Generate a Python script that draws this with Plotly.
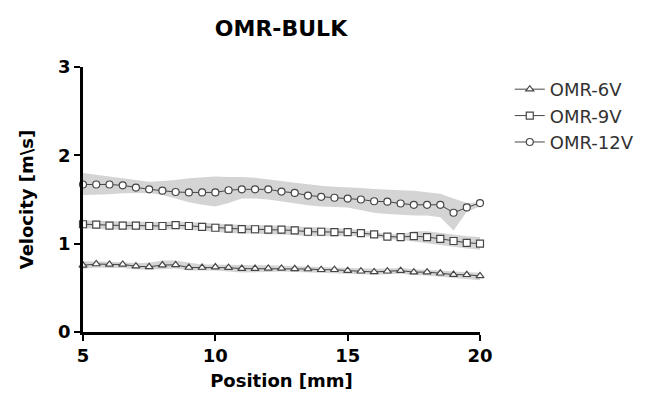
import plotly.graph_objects as go

position = [5 + 0.5 * i for i in range(31)]

x_ticks = [5, 10, 15, 20]
y_ticks = [0, 1, 2, 3]

v6_mean = [0.755, 0.77, 0.765, 0.765, 0.745, 0.738, 0.758, 0.76, 0.73, 0.73, 0.735,
           0.728, 0.718, 0.718, 0.72, 0.72, 0.715, 0.713, 0.705, 0.705, 0.695, 0.688,
           0.68, 0.688, 0.695, 0.678, 0.678, 0.665, 0.65, 0.648, 0.635]
v6_upper = [0.80, 0.80, 0.795, 0.79, 0.78, 0.785, 0.81, 0.81, 0.785, 0.765, 0.765,
            0.76, 0.755, 0.755, 0.755, 0.75, 0.745, 0.74, 0.735, 0.73, 0.725, 0.72,
            0.715, 0.72, 0.725, 0.71, 0.705, 0.695, 0.685, 0.68, 0.67]
v6_lower = [0.715, 0.73, 0.725, 0.725, 0.71, 0.705, 0.715, 0.72, 0.695, 0.695, 0.695,
            0.685, 0.675, 0.675, 0.678, 0.685, 0.68, 0.678, 0.67, 0.668, 0.66, 0.655,
            0.648, 0.655, 0.66, 0.645, 0.64, 0.628, 0.61, 0.60, 0.585]

v9_mean = [1.22, 1.215, 1.205, 1.205, 1.205, 1.20, 1.20, 1.21, 1.20, 1.19, 1.18,
           1.17, 1.165, 1.163, 1.16, 1.16, 1.15, 1.135, 1.135, 1.13, 1.13, 1.12,
           1.105, 1.08, 1.075, 1.085, 1.075, 1.055, 1.03, 1.01, 1.00]
v9_upper = [1.265, 1.26, 1.25, 1.25, 1.25, 1.245, 1.245, 1.255, 1.245, 1.235, 1.228,
            1.22, 1.215, 1.212, 1.21, 1.21, 1.2, 1.185, 1.185, 1.175, 1.17, 1.155,
            1.135, 1.11, 1.105, 1.14, 1.14, 1.12, 1.10, 1.085, 1.075]
v9_lower = [1.175, 1.17, 1.16, 1.16, 1.16, 1.155, 1.155, 1.165, 1.155, 1.145, 1.135,
            1.12, 1.115, 1.112, 1.108, 1.105, 1.098, 1.085, 1.085, 1.085, 1.09, 1.085,
            1.075, 1.05, 1.045, 1.03, 1.01, 0.99, 0.965, 0.945, 0.93]

v12_mean = [1.67, 1.67, 1.67, 1.66, 1.635, 1.615, 1.60, 1.585, 1.58, 1.58, 1.58,
            1.605, 1.615, 1.615, 1.615, 1.59, 1.575, 1.545, 1.53, 1.52, 1.51, 1.50,
            1.48, 1.475, 1.455, 1.44, 1.44, 1.44, 1.35, 1.41, 1.46]
v12_upper = [1.80, 1.78, 1.76, 1.74, 1.72, 1.70, 1.71, 1.72, 1.74, 1.75, 1.76,
             1.755, 1.755, 1.745, 1.73, 1.71, 1.69, 1.67, 1.655, 1.645, 1.64, 1.63,
             1.62, 1.61, 1.605, 1.60, 1.585, 1.565, 1.51, 1.46, 1.47]
v12_lower = [1.55, 1.555, 1.56, 1.57, 1.575, 1.575, 1.55, 1.51, 1.47, 1.44, 1.42,
             1.46, 1.51, 1.51, 1.50, 1.48, 1.455, 1.435, 1.42, 1.415, 1.41, 1.38,
             1.35, 1.335, 1.325, 1.32, 1.32, 1.30, 1.15, 1.36, 1.42]

series = [
    ("OMR-6V", v6_mean, v6_upper, v6_lower, "triangle-up"),
    ("OMR-9V", v9_mean, v9_upper, v9_lower, "square"),
    ("OMR-12V", v12_mean, v12_upper, v12_lower, "circle"),
]

BAND = "rgb(212,212,212)"
INK = "rgb(70,70,70)"
FONT = "DejaVu Sans, Arial, sans-serif"

fig = go.Figure()
for name, mean, upper, lower, sym in series:
    fig.add_trace(go.Scatter(
        x=position + position[::-1], y=upper + lower[::-1],
        fill="toself", fillcolor=BAND, line=dict(width=0),
        mode="lines", hoverinfo="skip", showlegend=False))

for name, mean, upper, lower, sym in series:
    fig.add_trace(go.Scatter(
        x=position, y=mean, name=name, mode="lines+markers",
        line=dict(color=INK, width=1),
        marker=dict(symbol=sym, size=7, color="white",
                    line=dict(color=INK, width=1.2)),
        cliponaxis=False))

fig.update_layout(
    width=660, height=393,
    margin=dict(l=83, r=180, t=67, b=61, autoexpand=False),
    paper_bgcolor="white", plot_bgcolor="white",
    font=dict(family=FONT, color="black"),
    title=dict(text="<b>OMR-BULK</b>", x=281 / 660, xanchor="center",
               y=1 - 28 / 393, yanchor="middle",
               font=dict(size=22, color="black", family=FONT)),
    showlegend=True,
    legend=dict(x=1.075, y=0.985, xanchor="left", yanchor="top",
                font=dict(size=18, color="rgb(50,50,50)", family=FONT),
                bgcolor="rgba(0,0,0,0)", itemwidth=30),
    xaxis=dict(range=[5, 20], tickvals=x_ticks, automargin=False,
               ticktext=[f"<b>{t}</b>" for t in x_ticks], showgrid=False,
               zeroline=False, showline=True, linecolor="black", linewidth=2.5,
               ticks="outside", ticklen=6, tickwidth=2, tickcolor="black",
               tickfont=dict(size=18, family=FONT, color="black"),
               title=dict(text="<b>Position [mm]</b>",
                          font=dict(size=18, family=FONT), standoff=10)),
    yaxis=dict(range=[0, 3], tickvals=y_ticks, automargin=False,
               ticktext=[f"<b>{t}</b>" for t in y_ticks], showgrid=False,
               zeroline=False, showline=True, linecolor="black", linewidth=2.5,
               ticks="outside", ticklen=6, tickwidth=2, tickcolor="black",
               tickfont=dict(size=18, family=FONT, color="black"),
               title=dict(text="<b>Velocity [m\\s]</b>",
                          font=dict(size=18, family=FONT), standoff=20)),
)

fig.write_html("out.html")
